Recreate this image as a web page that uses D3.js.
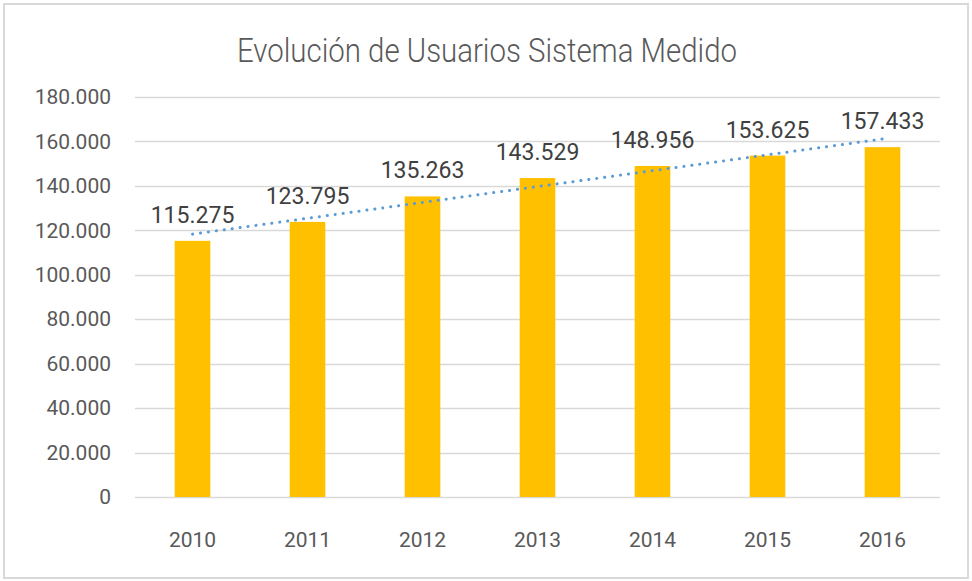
<!DOCTYPE html>
<html>
<head>
<meta charset="utf-8">
<script src="https://cdn.jsdelivr.net/npm/d3@7"></script>
<style>
  body { margin: 0; background: #fff; }
  text { font-family: "Roboto", "Liberation Sans", sans-serif; }
</style>
</head>
<body>
<svg id="chart" width="972" height="581"></svg>
<script>
// chart data
const years = ['2010', '2011', '2012', '2013', '2014', '2015', '2016'];
const usuarios = [115275, 123795, 135263, 143529, 148956, 153625, 157433];
const yTicks = [0, 20000, 40000, 60000, 80000, 100000, 120000, 140000, 160000, 180000];

const width = 972;
const height = 581;
const margin = { top: 97, right: 32, bottom: 84, left: 135 };

const svg = d3.select('#chart');

// outer border
svg.append('rect')
    .attr('x', 4).attr('y', 4)
    .attr('width', width - 8).attr('height', height - 7)
    .attr('fill', '#fff')
    .attr('stroke', '#d9d9d9')
    .attr('stroke-width', 2);

const x = d3.scaleBand()
    .domain(years)
    .range([margin.left, width - margin.right])
    .paddingInner(0.69)
    .paddingOuter(0.345);

const y = d3.scaleLinear()
    .domain([0, 180000])
    .range([height - margin.bottom, margin.top]);

const fmt = v => d3.format(',')(v).replace(/,/g, '.');

// title
svg.append('text')
    .attr('x', width / 2 + 1)
    .attr('y', 62)
    .attr('text-anchor', 'middle')
    .attr('textLength', 500)
    .attr('lengthAdjust', 'spacingAndGlyphs')
    .style('font-size', '34px')
    .style('font-weight', 300)
    .attr('fill', '#595959')
    .text('Evolución de Usuarios Sistema Medido');

// gridlines
svg.append('g')
    .selectAll('line')
    .data(yTicks)
    .enter().append('line')
    .attr('x1', margin.left)
    .attr('x2', width - margin.right)
    .attr('y1', d => Math.round(y(d)) + 0.5)
    .attr('y2', d => Math.round(y(d)) + 0.5)
    .attr('stroke', '#d9d9d9')
    .attr('stroke-width', 1.5);

// y axis labels
const yAxis = d3.axisLeft(y).tickValues(yTicks).tickFormat(fmt).tickSize(0).tickPadding(24);
const gy = svg.append('g')
    .attr('transform', `translate(${margin.left},0)`)
    .call(yAxis);
gy.select('.domain').remove();
gy.selectAll('text')
    .style('font-size', '21px')
    .style('font-family', '"Roboto", sans-serif')
    .attr('fill', '#595959');

// x axis labels
const xAxis = d3.axisBottom(x).tickSize(0).tickPadding(35);
const gx = svg.append('g')
    .attr('transform', `translate(0,${height - margin.bottom})`)
    .call(xAxis);
gx.select('.domain').remove();
gx.selectAll('text')
    .style('font-size', '21px')
    .style('font-family', '"Roboto", sans-serif')
    .attr('fill', '#595959');

// bars
svg.append('g')
    .selectAll('rect')
    .data(usuarios)
    .enter().append('rect')
    .attr('x', (d, i) => x(years[i]))
    .attr('y', d => y(d))
    .attr('width', x.bandwidth())
    .attr('height', d => y(0) - y(d))
    .attr('fill', '#ffc000');

// linear trendline (least squares)
const n = usuarios.length;
const mx = (n - 1) / 2;
const my = d3.mean(usuarios);
const slope = d3.sum(usuarios, (d, i) => (i - mx) * (d - my)) / d3.sum(usuarios, (d, i) => (i - mx) * (i - mx));
const icpt = my - slope * mx;
const cx = i => x(years[i]) + x.bandwidth() / 2;

svg.append('line')
    .attr('x1', cx(0))
    .attr('y1', y(icpt))
    .attr('x2', cx(n - 1))
    .attr('y2', y(icpt + slope * (n - 1)))
    .attr('stroke', '#5b9bd5')
    .attr('stroke-width', 3)
    .attr('stroke-linecap', 'round')
    .attr('stroke-dasharray', '0.1 7.9');

// data labels
svg.append('g')
    .selectAll('text')
    .data(usuarios)
    .enter().append('text')
    .attr('x', (d, i) => cx(i))
    .attr('y', d => y(d) - 18)
    .attr('text-anchor', 'middle')
    .style('font-size', '23px')
    .attr('fill', '#404040')
    .text(fmt);
</script>
</body>
</html>
